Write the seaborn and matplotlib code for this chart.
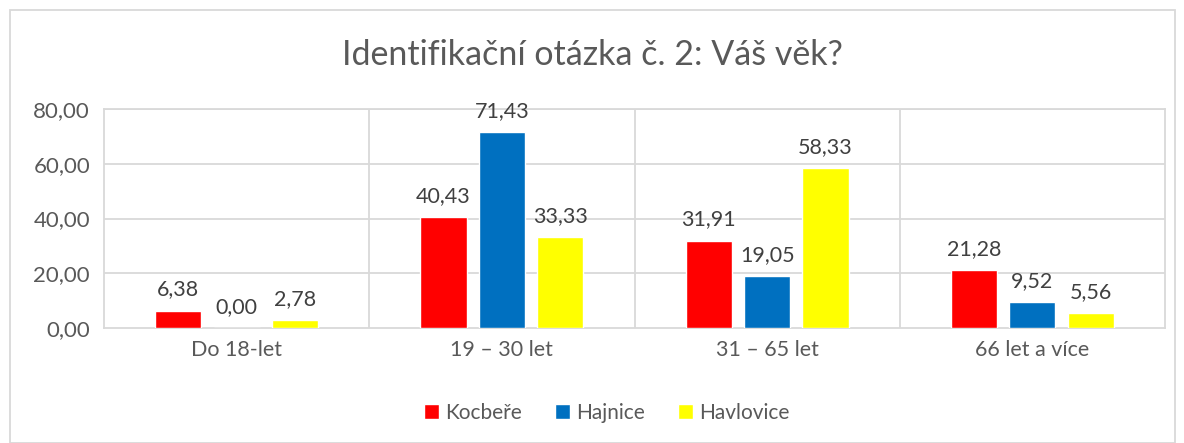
import matplotlib
matplotlib.use("Agg")
import matplotlib.pyplot as plt
import seaborn as sns
import pandas as pd
from matplotlib.patches import Rectangle

categories = ["Do 18-let", "19 – 30 let", "31 – 65 let", "66 let a více"]
series = ["Kocbeře", "Hajnice", "Havlovice"]
kocbere = [6.38, 40.43, 31.91, 21.28]
hajnice = [0.00, 71.43, 19.05, 9.52]
havlovice = [2.78, 33.33, 58.33, 5.56]
colors = ["#FF0000", "#0070C0", "#FFFF00"]
yticks = [0, 20, 40, 60, 80]

rows = []
for name, vals in zip(series, [kocbere, hajnice, havlovice]):
    for c, v in zip(categories, vals):
        rows.append({"cat": c, "series": name, "value": v})
df = pd.DataFrame(rows)

sns.set_theme(style="white")
plt.rcParams['font.family'] = ['Lato', 'DejaVu Sans']
txt = "#595959"
grid = "#D9D9D9"

fig = plt.figure(figsize=(11.84, 4.43), dpi=100)
ax = fig.add_axes([104/1184, 1-328/443, (1165-104)/1184, (328-109)/443])

sns.barplot(data=df, x="cat", y="value", hue="series", order=categories,
            hue_order=series, palette=colors, width=0.66, gap=0.21,
            saturation=1, ax=ax, legend=True, zorder=3)

ax.set_ylim(0, 80)
ax.set_xlim(-0.5, 3.5)
ax.set_yticks(yticks)
ax.set_yticklabels([f"{v:.2f}".replace(".", ",") for v in yticks], color=txt, fontsize=16)
ax.tick_params(axis="x", colors=txt, labelsize=15.5, length=0, pad=9)
ax.tick_params(axis="y", length=0, pad=10)
ax.set_xlabel("")
ax.set_ylabel("")
for y in yticks[1:]:
    ax.axhline(y, color=grid, lw=1.3, zorder=0)
for x in [0.5, 1.5, 2.5]:
    ax.axvline(x, color=grid, lw=1.3, zorder=0)
for s in ax.spines.values():
    s.set_color(grid)
    s.set_linewidth(1.3)

for cont in ax.containers:
    labels = [f"{b.get_height():.2f}".replace(".", ",") for b in cont]
    ax.bar_label(cont, labels=labels, padding=8, color="#404040", fontsize=15.5)

leg = ax.legend(loc="upper center", bbox_to_anchor=(0.474, -0.255), ncol=3,
                frameon=False, fontsize=15, handlelength=0.7, handleheight=0.7,
                handletextpad=0.3, columnspacing=1.6)
for t in leg.get_texts():
    t.set_color(txt)

fig.text(0.5, 1-55/443, "Identifikační otázka č. 2: Váš věk?", ha="center", va="center",
         fontsize=24.5, color=txt)

fig.patches.append(Rectangle((10/1184, 0), (1175-10)/1184, 1-10/443,
                             transform=fig.transFigure, fill=False,
                             edgecolor=grid, lw=1.3))

fig.savefig("out.png", dpi=100)
